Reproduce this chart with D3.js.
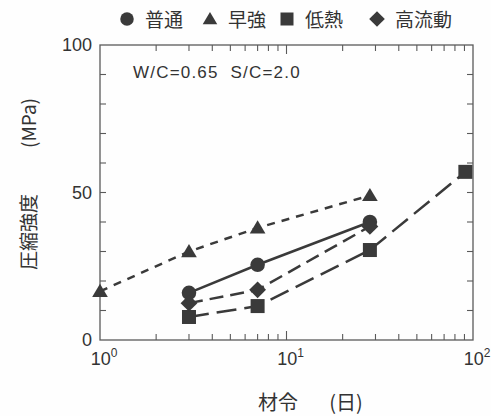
<!DOCTYPE html>
<html>
<head>
<meta charset="utf-8">
<script src="https://cdn.jsdelivr.net/npm/d3@7"></script>
<style>
  html, body { margin: 0; padding: 0; background: #fefefe; }
  svg { display: block; }
  text { fill: #333; }
</style>
</head>
<body>
<svg id="chart" width="491" height="416"></svg>
<script>
// Compressive strength vs. age for four cement types
const seriesNames = ["普通", "早強", "低熱", "高流動"];
const symbols = ["circle", "triangle", "square", "diamond"];
const dashes = ["none", "8,7", "20,8", "14,7"];

const ageFutsu = [3, 7, 28];
const strengthFutsu = [16, 25.5, 40];

const ageSoukyou = [1, 3, 7, 28];
const strengthSoukyou = [16.5, 30, 38, 49];

const ageTeinetsu = [3, 7, 28, 91];
const strengthTeinetsu = [7.8, 11.5, 30.5, 57];

const ageKouryudou = [3, 7, 28];
const strengthKouryudou = [12.5, 17, 38.5];

const yTicks = [0, 50, 100];
const xTickExp = [0, 1, 2];

const series = [
  { name: seriesNames[0], x: ageFutsu, y: strengthFutsu },
  { name: seriesNames[1], x: ageSoukyou, y: strengthSoukyou },
  { name: seriesNames[2], x: ageTeinetsu, y: strengthTeinetsu },
  { name: seriesNames[3], x: ageKouryudou, y: strengthKouryudou }
];

const svg = d3.select("#chart");
const ink = "#3a3a3a";
const axisInk = "#5a5a5a";
const plotL = 100, plotR = 473, plotT = 45, plotB = 340;

const x = d3.scaleLog().domain([1, 100]).range([plotL, plotR]);
const y = d3.scaleLinear().domain([0, 100]).range([plotB, plotT]);

// Frame
svg.append("rect")
  .attr("x", plotL).attr("y", plotT)
  .attr("width", plotR - plotL).attr("height", plotB - plotT)
  .attr("fill", "none").attr("stroke", axisInk).attr("stroke-width", 1.3);

// Inward ticks on all four sides
const minorX = [];
[1, 10].forEach(d => { for (let k = 2; k <= 9; k++) minorX.push(d * k); });
const majorX = [10];
const minorY = d3.range(10, 100, 10);

const tickLen = 6;
const g = svg.append("g").attr("stroke", axisInk).attr("stroke-width", 1.1);
minorX.concat(majorX).forEach(v => {
  const len = majorX.includes(v) ? tickLen + 3 : tickLen;
  g.append("line").attr("x1", x(v)).attr("x2", x(v)).attr("y1", plotB).attr("y2", plotB - len);
  g.append("line").attr("x1", x(v)).attr("x2", x(v)).attr("y1", plotT).attr("y2", plotT + len);
});
minorY.forEach(v => {
  g.append("line").attr("x1", plotL).attr("x2", plotL + tickLen).attr("y1", y(v)).attr("y2", y(v));
  g.append("line").attr("x1", plotR).attr("x2", plotR - tickLen).attr("y1", y(v)).attr("y2", y(v));
});

// Y tick labels
svg.selectAll(".ylab").data(yTicks).enter().append("text")
  .attr("x", plotL - 8).attr("y", d => y(d) + 6)
  .attr("text-anchor", "end")
  .style("font-family", "Liberation Sans, Arial, sans-serif")
  .style("font-size", "18px")
  .text(d => d);

// X tick labels as powers of ten
xTickExp.forEach(e => {
  const t = svg.append("text")
    .attr("x", x(Math.pow(10, e)) + 4).attr("y", 365)
    .attr("text-anchor", "middle")
    .style("font-family", "Liberation Sans, Arial, sans-serif")
    .style("font-size", "18px");
  t.append("tspan").text("10");
  t.append("tspan").attr("dy", -8).style("font-size", "12px").text(e);
});

// Axis titles
const cjk = "Noto Sans CJK JP, sans-serif";
svg.append("text")
  .attr("x", 278).attr("y", 410)
  .attr("text-anchor", "middle")
  .style("font-family", cjk).style("font-size", "20px")
  .text("材令");
svg.append("text")
  .attr("x", 346).attr("y", 410)
  .attr("text-anchor", "middle")
  .style("font-family", cjk).style("font-size", "20px")
  .text("(日)");

svg.append("text")
  .attr("transform", "translate(36,232) rotate(-90)")
  .attr("text-anchor", "middle")
  .style("font-family", cjk).style("font-size", "19px")
  .text("圧縮強度");
svg.append("text")
  .attr("transform", "translate(36,123) rotate(-90)")
  .attr("text-anchor", "middle")
  .style("font-family", cjk).style("font-size", "19px")
  .text("(MPa)");

// Annotation
svg.append("text")
  .attr("x", 133).attr("y", 78)
  .style("font-family", "Liberation Sans, Arial, sans-serif")
  .style("font-size", "17px")
  .style("letter-spacing", "1.2px")
  .attr("xml:space", "preserve")
  .text("W/C=0.65  S/C=2.0");

// Marker shapes
function marker(sel, kind, cx, cy, s) {
  if (kind === "circle") {
    sel.append("circle").attr("cx", cx).attr("cy", cy).attr("r", s * 0.52).attr("fill", ink);
  } else if (kind === "square") {
    sel.append("rect").attr("x", cx - s / 2).attr("y", cy - s / 2).attr("width", s).attr("height", s).attr("fill", ink);
  } else if (kind === "triangle") {
    const h = s * 0.9;
    sel.append("path").attr("d", `M${cx},${cy - h * 0.6}L${cx + s * 0.56},${cy + h * 0.45}L${cx - s * 0.56},${cy + h * 0.45}Z`).attr("fill", ink);
  } else if (kind === "diamond") {
    const r = s * 0.6;
    sel.append("path").attr("d", `M${cx},${cy - r}L${cx + r},${cy}L${cx},${cy + r}L${cx - r},${cy}Z`).attr("fill", ink);
  }
}

// Series lines, then markers
const line = d3.line().x(d => x(d[0])).y(d => y(d[1]));
series.forEach((s, i) => {
  const pts = s.x.map((v, j) => [v, s.y[j]]);
  svg.append("path")
    .attr("d", line(pts))
    .attr("fill", "none")
    .attr("stroke", ink)
    .attr("stroke-width", 2.5)
    .attr("stroke-dasharray", dashes[i]);
});
series.forEach((s, i) => {
  const mg = svg.append("g");
  s.x.forEach((v, j) => marker(mg, symbols[i], x(v), y(s.y[j]), 14));
});

// Legend across the top
const legendX = [127, 210, 287, 377];
const lg = svg.append("g");
seriesNames.forEach((n, i) => {
  marker(lg, symbols[i], legendX[i], 19, 13);
  lg.append("text")
    .attr("x", legendX[i] + 18).attr("y", 27)
    .style("font-family", cjk)
    .style("font-size", "19px")
    .text(n);
});
</script>
</body>
</html>
